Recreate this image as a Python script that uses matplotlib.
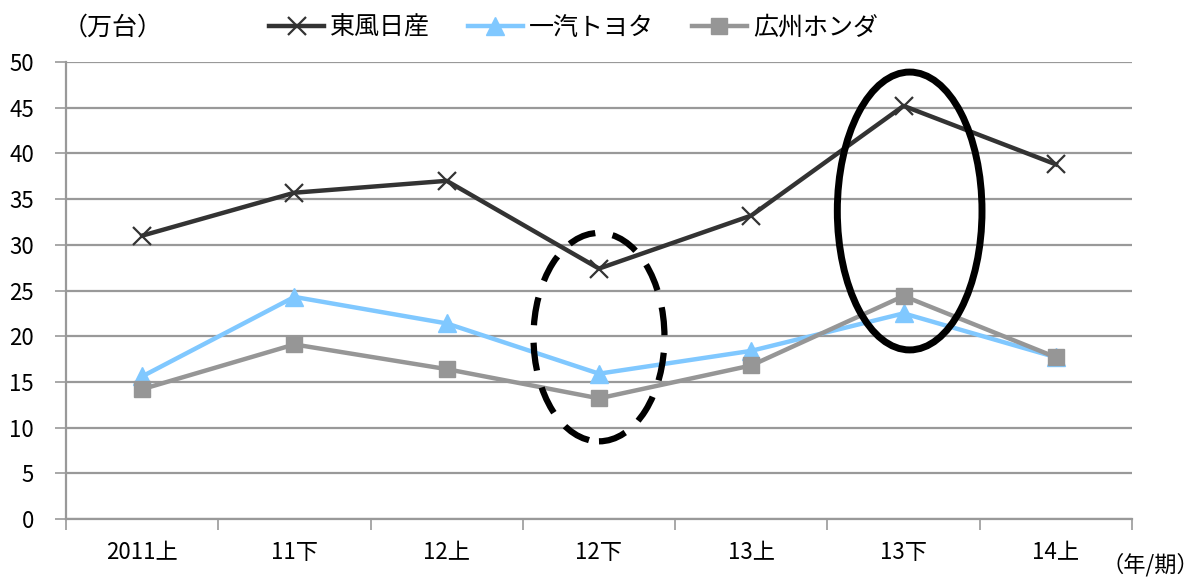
import matplotlib
matplotlib.use("Agg")
import matplotlib.pyplot as plt
from matplotlib.patches import Ellipse

plt.rcParams['font.family'] = ['Noto Sans CJK JP', 'DejaVu Sans']

# 半期ごとの販売台数（万台）
periods = ['2011上', '11下', '12上', '12下', '13上', '13下', '14上']
dongfeng_nissan = [31.0, 35.7, 37.0, 27.4, 33.2, 45.2, 38.8]
faw_toyota = [15.6, 24.3, 21.4, 15.9, 18.4, 22.5, 17.7]
gac_honda = [14.2, 19.1, 16.4, 13.2, 16.8, 24.4, 17.7]

fig = plt.figure(figsize=(11.97, 5.79), dpi=100)
ax = fig.add_axes([0.0551, 0.1036, 0.8906, 0.7893])

x = list(range(len(periods)))
ax.plot(x, dongfeng_nissan, color='#333333', lw=3.2, marker='x', ms=13,
        mew=1.6, label='東風日産', zorder=5)
ax.plot(x, faw_toyota, color='#80c8ff', lw=3.2, marker='^', ms=13,
        label='一汽トヨタ', zorder=4)
ax.plot(x, gac_honda, color='#969696', lw=3.2, marker='s', ms=12,
        label='広州ホンダ', zorder=4)

# 強調の楕円
ax.add_patch(Ellipse((3.0, 19.9), 0.86, 22.8, fill=False, ec='black',
                     lw=4.5, ls=(0, (4.5, 2.8)), zorder=6))
ax.add_patch(Ellipse((5.04, 33.7), 0.95, 30.4, fill=False, ec='black',
                     lw=5, zorder=6))

ax.set_xlim(-0.5, 6.5)
ax.set_ylim(0, 50)
ax.set_yticks(range(0, 51, 5))
ax.yaxis.grid(True, color='#999999', lw=1.6)
ax.set_axisbelow(True)

ax.set_xticks(x)
ax.set_xticklabels(periods, fontsize=16)
ax.set_xticks([i - 0.5 for i in range(len(periods) + 1)], minor=True)
ax.tick_params(axis='x', which='major', length=0, pad=16)
ax.tick_params(axis='x', which='minor', length=8, color='#999999', width=1.2)
ax.tick_params(axis='y', length=8, color='#999999', width=1.2, labelsize=16, pad=15)

for s in ['top', 'right']:
    ax.spines[s].set_visible(False)
for s in ['left', 'bottom']:
    ax.spines[s].set_color('#999999')
    ax.spines[s].set_linewidth(1.6)

fig.text(0.052, 0.952, '（万台）', fontsize=18, va='center')
fig.text(0.920, 0.024, '（年/期）', fontsize=16, va='center')

fig.legend(loc='center left', bbox_to_anchor=(0.206, 0.952), ncol=3,
           frameon=False, fontsize=18, handlelength=2.2, columnspacing=1.5,
           handletextpad=0.25)

fig.savefig('out.png', dpi=100)
